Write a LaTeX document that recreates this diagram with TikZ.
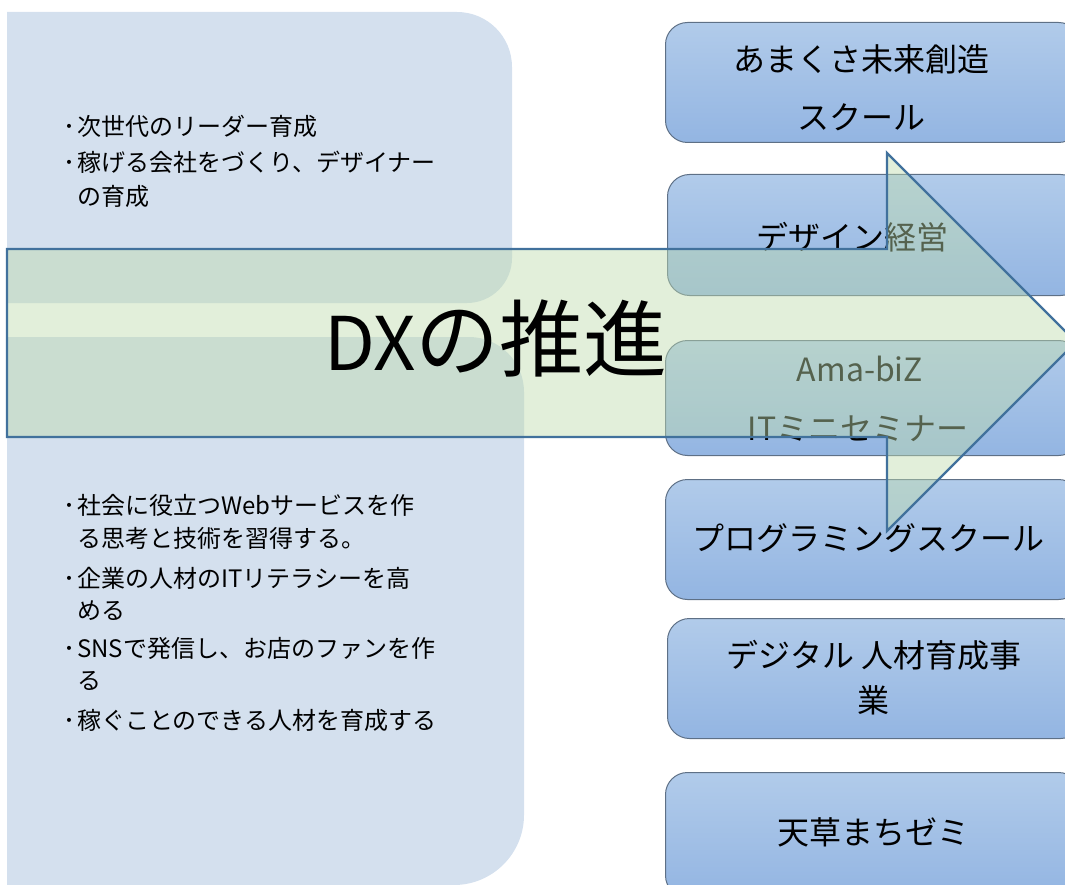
\documentclass[tikz,border=0pt]{standalone}
\usepackage{fontspec}
\setmainfont{Noto Sans CJK JP}
\definecolor{panel}{HTML}{D4E0EE}
\definecolor{boxtop}{HTML}{B1CBEA}
\definecolor{boxbot}{HTML}{93B5E2}
\definecolor{boxline}{HTML}{5E7086}
\definecolor{arrowfill}{RGB}{190,219,173}
\definecolor{arrowline}{HTML}{41719C}
\tikzset{
  boxnode/.style={rectangle, rounded corners=22pt, draw=boxline, line width=1pt,
    top color=boxtop, bottom color=boxbot, minimum width=415pt, inner sep=0pt, anchor=north west},
  boxtext/.style={anchor=base, inner sep=0pt, font=\fontsize{32}{40}\selectfont, text=black},
  ptext/.style={anchor=base west, inner sep=0pt, font=\fontsize{24}{30}\selectfont, text=black},
}
\newcommand{\bul}{\makebox[14pt][l]{･}}
\newcommand{\ind}{\hspace*{14pt}}
\begin{document}
\begin{tikzpicture}[x=1pt,y=-1pt]
\useasboundingbox (0,0) rectangle (1065,885);
\clip (0,0) rectangle (1065,885);
% left panels
\fill[panel] (7,12) -- (457,12) .. controls (487.4,12) and (512,36.6) .. (512,67)
  -- (512,258) .. controls (512,282.8) and (491.8,303) .. (467,303) -- (7,303) -- cycle;
\fill[panel] (7,337) -- (469,337) .. controls (499.4,337) and (524,361.6) .. (524,392)
  -- (524,815) .. controls (524,853.6) and (492.6,885) .. (454,885) -- (7,885) -- cycle;
% panel texts
\node[ptext] (ta1) at (63,136) {\bul 次世代のリーダー育成};
\node[ptext] (ta2) at (63,172) {\bul 稼げる会社をづくり、デザイナー};
\node[ptext] (ta3) at (63,206) {\ind の育成};
\node[ptext] (tb1) at (63,514) {\bul 社会に役立つWebサービスを作};
\node[ptext] (tb2) at (63,547) {\ind る思考と技術を習得する。};
\node[ptext] (tb3) at (63,587) {\bul 企業の人材のITリテラシーを高};
\node[ptext] (tb4) at (63,619) {\ind める};
\node[ptext] (tb5) at (63,657) {\bul SNSで発信し、お店のファンを作};
\node[ptext] (tb6) at (63,689) {\ind る};
\node[ptext] (tb7) at (63,729) {\bul 稼ぐことのできる人材を育成する};
% right boxes
\node[boxnode, minimum height=120pt] (b1) at (665,22) {};
\node[boxnode, minimum height=121pt] (b2) at (667,174) {};
\node[boxnode, minimum height=115pt] (b3) at (665,340) {};
\node[boxnode, minimum height=120pt] (b4) at (665,479) {};
\node[boxnode, minimum height=120pt] (b5) at (667,618) {};
\node[boxnode, minimum height=125pt] (b6) at (665,772) {};
\node[boxtext] (l1a) at (861,72) {あまくさ未来創造};
\node[boxtext] (l1b) at (861,130) {スクール};
\node[boxtext] (l2) at (852,250) {デザイン経営};
\node[boxtext] (l3a) at (860,381) {Ama-biZ};
\node[boxtext] (l3b) at (858,440) {ITミニセミナー};
\node[boxtext] (l4) at (868,550) {プログラミングスクール};
\node[boxtext] (l5a) at (874,667) {デジタル 人材育成事};
\node[boxtext] (l5b) at (873,712) {業};
\node[boxtext] (l6) at (873,844) {天草まちゼミ};
% big arrow
\path[fill=arrowfill, fill opacity=0.45, draw=arrowline, line width=2.4pt, line join=miter]
  (7,249) -- (887,249) -- (887,153) -- (1076,342) -- (887,531) -- (887,437) -- (7,437) -- cycle;
\node[anchor=base, inner sep=0pt, font=\fontsize{84}{96}\selectfont] (dx) at (496,370) {{\fontsize{74}{90}\selectfont DX}の推進};
\end{tikzpicture}
\end{document}
